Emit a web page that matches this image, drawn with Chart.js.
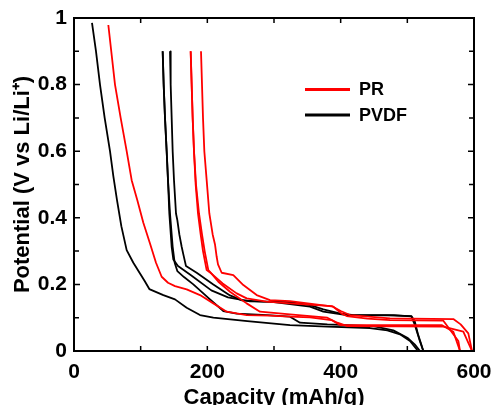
<!DOCTYPE html>
<html>
<head>
<meta charset="utf-8">
<script src="https://cdn.jsdelivr.net/npm/chart.js@4.4.0/dist/chart.umd.min.js"></script>
<style>
  html, body { margin: 0; padding: 0; background: #fff; }
  #c { display: block; }
</style>
</head>
<body>
<canvas id="c" width="494" height="405"></canvas>
<script>
// ---- data ----
const seriesNames = ['PR', 'PVDF'];
const xTicks = [0, 200, 400, 600];
const xTickLabels = ['0', '200', '400', '600'];
const yTicks = [0, 0.2, 0.4, 0.6, 0.8, 1];
const yTickLabels = ['0', '0.2', '0.4', '0.6', '0.8', '1'];

// PR (red) curves
const pr1Cap = [51.5, 61.5, 70, 79, 86.5, 95, 104, 114, 123, 131.5, 141, 151.5, 169, 189, 209, 229, 259, 294, 324, 354, 386, 399, 474, 551.5, 569, 579];
const pr1V   = [0.979, 0.8, 0.7, 0.6, 0.513, 0.453, 0.385, 0.323, 0.265, 0.223, 0.205, 0.195, 0.185, 0.168, 0.143, 0.118, 0.108, 0.106, 0.103, 0.101, 0.093, 0.078, 0.078, 0.078, 0.058, 0];
const pr2Cap = [175, 176.5, 178, 180, 182.5, 186, 190, 193.5, 199, 204, 223, 244, 259, 289, 324, 386.5, 400, 414, 474, 569, 580, 591.5, 597];
const pr2V   = [0.9, 0.8, 0.7, 0.6, 0.5, 0.413, 0.35, 0.3, 0.243, 0.236, 0.203, 0.173, 0.158, 0.148, 0.143, 0.135, 0.12, 0.108, 0.098, 0.096, 0.08, 0.053, 0];
const pr3Cap = [175, 176.5, 178, 180, 183, 187.5, 192, 196, 201.5, 206, 216.5, 234, 259, 279, 324, 354, 380, 395, 410, 554, 584, 597];
const pr3V   = [0.9, 0.8, 0.7, 0.6, 0.5, 0.413, 0.35, 0.3, 0.243, 0.233, 0.208, 0.178, 0.143, 0.118, 0.11, 0.105, 0.1, 0.085, 0.075, 0.073, 0.058, 0];
const pr4Cap = [190.5, 192, 193.5, 195.5, 199, 203, 208, 211.5, 214, 216, 221.5, 239, 254, 274, 294, 324, 389, 401, 409, 440, 474, 554, 576.5, 579];
const pr4V   = [0.9, 0.8, 0.7, 0.6, 0.513, 0.413, 0.35, 0.32, 0.283, 0.26, 0.235, 0.228, 0.198, 0.168, 0.153, 0.15, 0.133, 0.113, 0.105, 0.097, 0.093, 0.091, 0.03, 0];

// PVDF (black) curves
const pvdf1Cap = [27, 33, 39, 46, 54, 59, 64.5, 71, 79, 89, 99, 106, 113, 134, 151.5, 169, 189, 209, 260, 324, 380, 444, 470, 489, 504, 516];
const pvdf1V   = [0.985, 0.9, 0.8, 0.7, 0.6, 0.525, 0.453, 0.375, 0.303, 0.265, 0.233, 0.21, 0.186, 0.168, 0.155, 0.13, 0.108, 0.1, 0.09, 0.078, 0.073, 0.069, 0.062, 0.05, 0.03, 0];
const pvdf2Cap = [133, 134.5, 136.5, 139, 141, 143, 146.5, 149, 156, 176, 206, 231, 264, 294, 354, 374, 409, 470, 506, 511, 516, 524];
const pvdf2V   = [0.9, 0.8, 0.7, 0.6, 0.513, 0.413, 0.313, 0.275, 0.255, 0.227, 0.182, 0.161, 0.149, 0.148, 0.133, 0.118, 0.108, 0.107, 0.105, 0.09, 0.05, 0];
const pvdf3Cap = [133, 134.5, 136.5, 139, 141, 144, 148, 151, 155, 165, 179, 204, 224, 244, 290, 324, 339, 380, 449, 479, 500, 511, 519];
const pvdf3V   = [0.9, 0.8, 0.7, 0.6, 0.513, 0.413, 0.313, 0.265, 0.24, 0.222, 0.2, 0.155, 0.12, 0.112, 0.108, 0.103, 0.085, 0.08, 0.075, 0.062, 0.04, 0.02, 0];
const pvdf4Cap = [144, 145, 146.5, 148, 150, 153, 155, 158, 161.5, 164, 168, 184, 209, 234, 252, 284, 324, 354, 374, 400, 420, 480, 506, 511, 518, 524];
const pvdf4V   = [0.9, 0.8, 0.7, 0.6, 0.513, 0.413, 0.393, 0.35, 0.313, 0.29, 0.255, 0.235, 0.2, 0.167, 0.152, 0.148, 0.147, 0.138, 0.125, 0.112, 0.108, 0.108, 0.104, 0.08, 0.035, 0];

const RED = '#ff0000', BLACK = '#000000';
const FONT = "'Liberation Sans', Arial, Helvetica, sans-serif";

function pts(xs, ys) { return xs.map((x, i) => ({ x: x, y: ys[i] })); }
function ds(name, xs, ys, color) {
  return { label: name, data: pts(xs, ys), borderColor: color, backgroundColor: color,
           borderWidth: 1.8, pointRadius: 0, showLine: true, tension: 0,
           borderJoinStyle: 'round', fill: false };
}

const datasets = [
  ds(seriesNames[0], pr1Cap, pr1V, RED),
  ds(seriesNames[0], pr2Cap, pr2V, RED),
  ds(seriesNames[0], pr3Cap, pr3V, RED),
  ds(seriesNames[0], pr4Cap, pr4V, RED),
  ds(seriesNames[1], pvdf1Cap, pvdf1V, BLACK),
  ds(seriesNames[1], pvdf2Cap, pvdf2V, BLACK),
  ds(seriesNames[1], pvdf3Cap, pvdf3V, BLACK),
  ds(seriesNames[1], pvdf4Cap, pvdf4V, BLACK)
];

// frame with inward ticks on all four sides
const framePlugin = {
  id: 'frame',
  afterDatasetsDraw(chart) {
    const { ctx, chartArea: a, scales: { x, y } } = chart;
    ctx.save();
    ctx.strokeStyle = '#000';
    ctx.lineWidth = 2;
    ctx.strokeRect(a.left, a.top, a.right - a.left, a.bottom - a.top);
    ctx.lineWidth = 1.5;
    ctx.beginPath();
    for (let v = 0; v <= 600; v += 100) {
      const px = x.getPixelForValue(v);
      ctx.moveTo(px, a.bottom); ctx.lineTo(px, a.bottom - 5);
      ctx.moveTo(px, a.top); ctx.lineTo(px, a.top + 5);
    }
    for (let i = 0; i <= 10; i++) {
      const py = y.getPixelForValue(i / 10);
      const len = (i % 2 === 0) ? 6 : 5;
      ctx.moveTo(a.left, py); ctx.lineTo(a.left + len, py);
      ctx.moveTo(a.right, py); ctx.lineTo(a.right - len, py);
    }
    ctx.stroke();
    ctx.restore();
  }
};

// legend (two entries: PR, PVDF)
const legendPlugin = {
  id: 'customLegend',
  afterDraw(chart) {
    const { ctx } = chart;
    const entries = [[seriesNames[0], RED, 89.5], [seriesNames[1], BLACK, 115]];
    ctx.save();
    ctx.font = "bold 18px " + FONT;
    ctx.textBaseline = 'middle';
    ctx.textAlign = 'left';
    entries.forEach(([name, color, yy]) => {
      ctx.strokeStyle = color;
      ctx.lineWidth = 3;
      ctx.beginPath();
      ctx.moveTo(305, yy); ctx.lineTo(350, yy);
      ctx.stroke();
      ctx.fillStyle = '#000';
      ctx.fillText(name, 359, yy + 1);
    });
    ctx.restore();
  }
};

new Chart(document.getElementById('c'), {
  type: 'scatter',
  data: { datasets },
  options: {
    responsive: false,
    animation: false,
    devicePixelRatio: 1,
    layout: { padding: { left: 0, right: 20, top: 18, bottom: 0 } },
    plugins: { legend: { display: false }, tooltip: { enabled: false } },
    scales: {
      x: {
        type: 'linear', position: 'bottom', min: 0, max: 600,
        afterBuildTicks: s => { s.ticks = xTicks.map(v => ({ value: v })); },
        afterFit: s => { s.height = 54; s.paddingLeft = 0; s.paddingRight = 0; },
        grid: { display: false, drawTicks: false },
        border: { display: false },
        ticks: { font: { family: FONT, size: 21, weight: 'bold' }, color: '#000', padding: 9, maxRotation: 0,
                 callback: (v) => xTickLabels[xTicks.indexOf(v)] },
        title: { display: true, text: 'Capacity (mAh/g)', color: '#000',
                 font: { family: FONT, size: 22, weight: 'bold', lineHeight: 1 },
                 padding: { top: 0, bottom: -3.5 } }
      },
      y: {
        type: 'linear', position: 'left', min: 0, max: 1,
        afterBuildTicks: s => { s.ticks = yTicks.map(v => ({ value: v })); },
        afterFit: s => { s.width = 74; s.paddingTop = 0; s.paddingBottom = 0; },
        grid: { display: false, drawTicks: false },
        border: { display: false },
        ticks: { font: { family: FONT, size: 21, weight: 'bold' }, color: '#000', padding: 7,
                 callback: (v) => yTickLabels[yTicks.indexOf(v)] },
        title: { display: true, text: 'Potential (V vs Li/Li\u207A)', color: '#000',
                 font: { family: FONT, size: 22, weight: 'bold', lineHeight: 1 },
                 padding: { top: 12, bottom: 0 } }
      }
    }
  },
  plugins: [framePlugin, legendPlugin]
});
</script>
</body>
</html>
